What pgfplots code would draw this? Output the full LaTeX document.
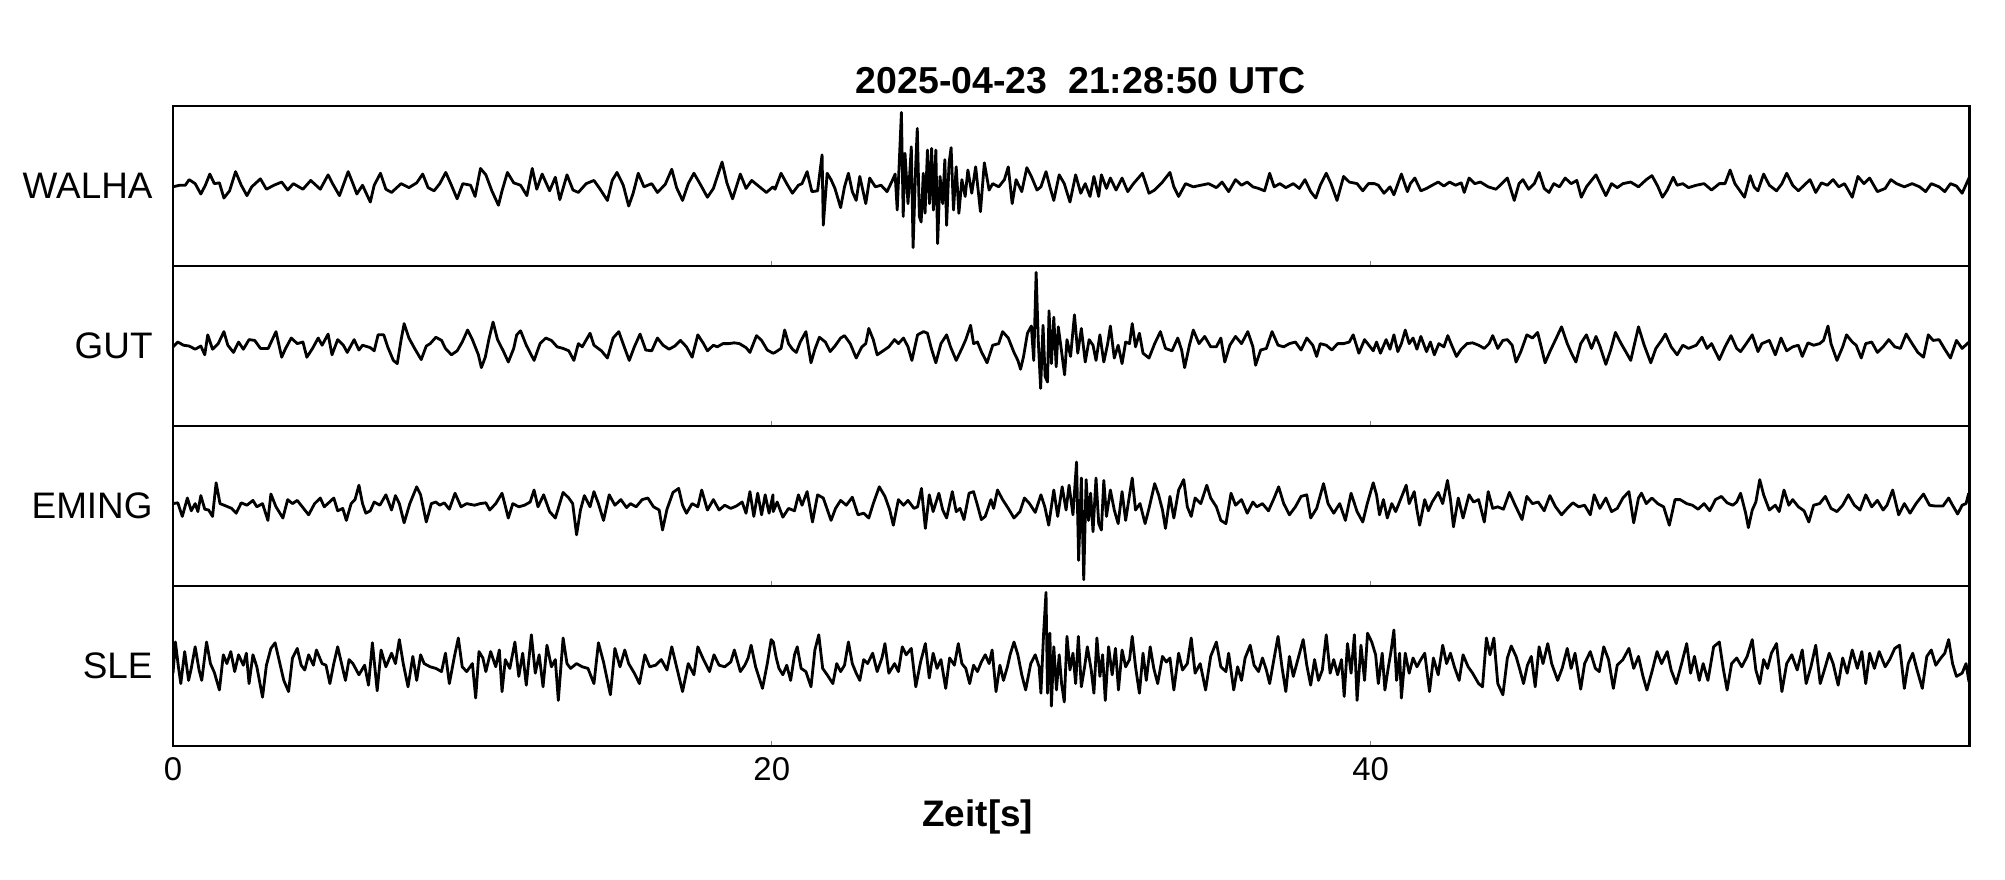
\documentclass[border=0pt]{standalone}
\usepackage{fontspec}
\setmainfont{Liberation Sans}
\usepackage{pgfplots}
\pgfplotsset{compat=1.18}

\pgfplotsset{
  seis/.style={
    scale only axis, width=448pt, height=39.9pt,
    anchor=south west,
    xmin=0, xmax=60, ymin=-1, ymax=1,
    ytick=\empty, xtick={0,20,40},
    xtick pos=bottom, tick align=inside, major tick length=1.2pt,
    axis line style={line width=0.6pt},
    clip mode=individual,
    /pgf/number format/assume math mode=true,
    tick label style={font=\fontsize{8.2}{10}\selectfont},
    xticklabel style={anchor=north, inner sep=0pt, yshift=-2.7pt},
  },
  trace/.style={black, line width=0.7pt, line join=round, no markers},
}
\tikzset{
  station/.style={anchor=east, inner sep=0pt, xshift=-4.9pt, font=\fontsize{9.2}{11}\selectfont},
}

\begin{document}
\begin{tikzpicture}
\path[use as bounding box] (-43.15pt,-33.42pt) rectangle (456.9pt,186.05pt);

% WALHA
\begin{axis}[seis, at={(0pt,119.7pt)}, xticklabels={}]
\addplot[trace] coordinates {
(0.00,-0.01) (0.22,0.01) (0.41,0.01) (0.54,0.08) (0.74,0.03) (0.93,-0.10) (1.08,0.01) (1.23,0.15) (1.38,0.03) (1.55,0.04)
(1.70,-0.15) (1.89,-0.06) (2.09,0.18) (2.28,0.01) (2.47,-0.12) (2.63,-0.01) (2.92,0.09) (3.12,-0.04) (3.37,0.01) (3.63,0.05)
(3.83,-0.05) (4.02,0.03) (4.34,-0.04) (4.60,0.07) (4.92,-0.04) (5.18,0.14) (5.33,0.03) (5.56,-0.12) (5.85,0.18) (6.01,0.03)
(6.14,-0.10) (6.33,0.01) (6.59,-0.20) (6.72,0.01) (6.93,0.16) (7.11,-0.04) (7.30,-0.08) (7.62,0.03) (7.88,-0.02) (8.14,0.04)
(8.34,0.15) (8.52,-0.02) (8.72,-0.06) (8.91,0.03) (9.11,0.17) (9.30,0.01) (9.49,-0.16) (9.68,0.03) (9.94,0.01) (10.09,-0.13)
(10.27,0.22) (10.45,0.14) (10.65,-0.06) (10.87,-0.24) (10.99,-0.06) (11.17,0.17) (11.38,0.04) (11.61,0.01) (11.82,-0.12) (12.00,0.22)
(12.15,-0.04) (12.33,0.15) (12.58,-0.06) (12.77,0.11) (12.92,-0.17) (13.16,0.14) (13.36,-0.05) (13.54,-0.08) (13.80,0.03) (14.06,0.07)
(14.25,-0.03) (14.51,-0.18) (14.67,0.07) (14.83,0.17) (15.04,0.01) (15.22,-0.25) (15.37,-0.09) (15.54,0.16) (15.73,-0.01) (15.99,0.03)
(16.18,-0.08) (16.44,0.02) (16.66,0.21) (16.82,-0.02) (17.02,-0.18) (17.21,0.03) (17.40,0.16) (17.60,0.03) (17.85,-0.14) (18.05,-0.03)
(18.34,0.30) (18.50,0.04) (18.69,-0.16) (18.95,0.15) (19.14,-0.03) (19.33,0.07) (19.59,-0.01) (19.82,-0.08) (20.04,-0.01)
(20.11,-0.04) (20.31,0.16) (20.50,0.03) (20.69,-0.09) (20.89,0.01) (21.01,0.03) (21.18,0.18) (21.34,-0.07) (21.53,-0.06) (21.68,0.39)
(21.72,-0.49) (21.85,0.16) (21.98,0.08) (22.11,-0.03) (22.30,-0.27) (22.43,-0.01) (22.56,0.16) (22.69,-0.07) (22.82,-0.18) (22.94,0.12)
(23.14,-0.22) (23.27,0.10) (23.46,-0.01) (23.65,0.01) (23.85,-0.07) (24.04,0.08) (24.12,0.15) (24.19,-0.30) (24.33,0.92) (24.39,-0.38)
(24.45,0.41) (24.55,-0.22) (24.66,0.49) (24.72,-0.77) (24.81,0.28) (24.86,0.72) (24.93,-0.38) (24.99,-0.45) (25.06,0.16) (25.12,-0.34)
(25.20,0.45) (25.27,-0.22) (25.34,0.47) (25.40,-0.30) (25.48,0.45) (25.54,-0.72) (25.62,0.12) (25.71,-0.22) (25.78,0.33) (25.84,-0.49)
(25.92,0.28) (25.99,0.48) (26.07,-0.30) (26.16,0.24) (26.25,-0.34) (26.35,0.08) (26.46,-0.13) (26.55,0.20) (26.68,-0.09) (26.81,0.24)
(26.97,-0.32) (27.10,0.29) (27.26,-0.05) (27.38,0.03) (27.58,-0.01) (27.77,0.08) (27.90,0.24) (28.03,-0.22) (28.16,0.08) (28.35,-0.07)
(28.52,0.23) (28.67,0.12) (28.86,-0.05) (28.99,-0.01) (29.16,0.18) (29.29,-0.01) (29.42,-0.18) (29.60,0.14) (29.77,0.03) (29.96,-0.20)
(30.15,0.14) (30.32,-0.09) (30.47,0.03) (30.63,-0.13) (30.76,0.12) (30.92,-0.13) (31.01,0.14) (31.18,-0.03) (31.31,0.10) (31.50,-0.05)
(31.70,0.10) (31.89,-0.07) (32.08,0.03) (32.38,0.16) (32.60,-0.09) (32.79,-0.05) (33.05,0.05) (33.30,0.17) (33.43,-0.01) (33.59,-0.13)
(33.82,0.03) (34.08,-0.01) (34.33,0.01) (34.59,0.03) (34.85,-0.02) (35.04,0.05) (35.26,-0.07) (35.49,0.08) (35.69,0.01) (35.88,0.05)
(36.07,-0.01) (36.26,-0.03) (36.46,-0.06) (36.63,0.16) (36.78,-0.01) (36.97,0.03) (37.17,-0.02) (37.42,0.03) (37.62,-0.03) (37.81,0.08)
(38.00,-0.07) (38.17,-0.15) (38.32,0.01) (38.52,0.16) (38.68,0.03) (38.88,-0.18) (39.10,0.12) (39.29,0.05) (39.55,0.03) (39.74,-0.06)
(39.93,0.03) (40.13,0.03) (40.26,0.01) (40.45,-0.09) (40.65,-0.01) (40.78,-0.11) (41.03,0.15) (41.23,-0.07) (41.33,0.03) (41.48,0.10)
(41.68,-0.06) (41.87,-0.03) (42.06,0.01) (42.26,0.05) (42.45,0.00) (42.64,0.05) (42.84,0.01) (43.03,0.04) (43.13,-0.08) (43.29,0.10)
(43.48,0.03) (43.67,0.05) (43.93,-0.01) (44.19,-0.04) (44.38,0.03) (44.57,0.10) (44.80,-0.18) (44.96,0.03) (45.09,0.08) (45.28,-0.04)
(45.47,0.03) (45.63,0.17) (45.80,-0.03) (45.96,-0.08) (46.12,0.03) (46.31,-0.01) (46.50,0.10) (46.70,0.03) (46.89,0.07) (47.04,-0.14)
(47.21,-0.01) (47.40,0.08) (47.53,0.14) (47.73,-0.02) (47.86,-0.12) (48.05,0.03) (48.24,-0.02) (48.43,0.03) (48.69,0.05) (48.95,-0.01)
(49.21,0.08) (49.40,0.13) (49.59,0.00) (49.75,-0.14) (49.91,-0.05) (50.11,0.11) (50.24,0.01) (50.43,0.03) (50.62,-0.02) (50.88,0.01)
(51.14,0.03) (51.39,-0.05) (51.65,0.03) (51.84,0.03) (52.01,0.20) (52.17,0.03) (52.32,-0.05) (52.49,-0.14) (52.68,0.13) (52.81,-0.01)
(52.94,-0.06) (53.13,0.15) (53.32,0.01) (53.56,-0.06) (53.74,0.03) (53.90,0.16) (54.10,0.01) (54.29,-0.06) (54.48,0.01) (54.68,0.08)
(54.87,-0.08) (55.06,0.04) (55.26,0.01) (55.45,0.08) (55.64,-0.01) (55.83,0.03) (56.09,-0.14) (56.28,0.12) (56.48,0.03) (56.67,0.10)
(56.93,-0.07) (57.19,-0.03) (57.38,0.08) (57.57,0.03) (57.83,-0.01) (58.09,0.03) (58.34,-0.01) (58.54,-0.07) (58.73,0.03) (58.99,-0.01)
(59.18,-0.07) (59.37,0.03) (59.57,0.00) (59.76,-0.09) (59.99,0.10)
};
\node[station] at (rel axis cs:0,0.5) {WALHA};
\node[anchor=base, inner sep=0pt, font=\fontsize{9.35}{11}\selectfont\bfseries] at (rel axis cs:0.5,1) [xshift=2.4pt, yshift=3.1pt] {2025-04-23~~21:28:50 UTC};
\end{axis}

% GUT
\begin{axis}[seis, at={(0pt,79.8pt)}, xticklabels={}]
\addplot[trace] coordinates {
(0.00,-0.01) (0.16,0.05) (0.35,0.01) (0.54,0.00) (0.74,-0.04) (0.93,0.00) (1.06,-0.11) (1.16,0.14) (1.32,-0.04) (1.51,0.03)
(1.70,0.18) (1.83,0.01) (2.02,-0.08) (2.19,0.05) (2.35,-0.04) (2.54,0.08) (2.73,0.07) (2.92,-0.03) (3.18,-0.03) (3.44,0.18)
(3.63,-0.14) (3.76,-0.03) (3.95,0.10) (4.15,0.03) (4.34,0.05) (4.47,-0.14) (4.66,-0.03) (4.85,0.10) (4.98,0.01) (5.18,0.15)
(5.31,-0.11) (5.50,0.08) (5.69,0.01) (5.82,-0.08) (6.05,0.08) (6.21,-0.05) (6.33,0.01) (6.59,-0.02) (6.72,-0.06) (6.85,0.14)
(7.04,0.14) (7.17,-0.01) (7.36,-0.18) (7.49,-0.22) (7.62,0.08) (7.72,0.28) (7.88,0.10) (8.07,-0.03) (8.29,-0.17) (8.46,0.00)
(8.59,0.03) (8.78,0.11) (8.97,0.07) (9.10,-0.03) (9.30,-0.11) (9.49,-0.06) (9.66,0.05) (9.84,0.20) (10.00,0.08) (10.20,-0.11)
(10.30,-0.27) (10.43,-0.14) (10.56,0.10) (10.69,0.30) (10.84,0.08) (11.03,-0.06) (11.20,-0.20) (11.38,-0.03) (11.48,0.14) (11.61,0.19)
(11.80,0.01) (12.06,-0.18) (12.26,0.03) (12.45,0.10) (12.64,0.07) (12.83,-0.01) (13.03,-0.03) (13.22,-0.06) (13.39,-0.18) (13.54,0.03)
(13.67,-0.01) (13.93,0.16) (14.06,0.01) (14.31,-0.06) (14.51,-0.15) (14.70,0.10) (14.89,0.18) (15.09,-0.03) (15.24,-0.18) (15.41,-0.01)
(15.60,0.15) (15.79,-0.05) (15.99,-0.06) (16.18,0.10) (16.37,0.01) (16.57,-0.04) (16.76,0.00) (16.95,0.07) (17.15,-0.01) (17.34,-0.14)
(17.53,0.14) (17.72,0.03) (17.85,-0.06) (18.05,0.01) (18.18,-0.01) (18.37,0.03) (18.56,0.03) (18.75,0.04) (18.92,0.03) (19.14,-0.02)
(19.27,-0.08) (19.49,0.13) (19.66,0.07) (19.85,-0.05) (20.04,-0.09)
(20.11,-0.08) (20.31,-0.03) (20.43,0.20) (20.56,0.03) (20.69,-0.04) (20.82,-0.08) (20.95,0.05) (21.14,0.18) (21.31,-0.21) (21.44,-0.04)
(21.59,0.11) (21.79,0.05) (21.95,-0.07) (22.11,0.00) (22.30,0.10) (22.43,0.13) (22.62,0.03) (22.82,-0.15) (23.01,-0.01) (23.14,0.03)
(23.24,0.22) (23.39,0.08) (23.52,-0.11) (23.72,-0.06) (23.91,-0.01) (24.10,0.08) (24.23,0.03) (24.40,0.10) (24.55,-0.01) (24.68,-0.18)
(24.87,0.14) (25.07,0.18) (25.20,0.16) (25.33,-0.03) (25.48,-0.21) (25.65,0.03) (25.84,0.14) (25.97,-0.01) (26.16,-0.18) (26.35,-0.03)
(26.48,0.08) (26.64,0.26) (26.74,0.03) (26.87,0.05) (27.00,-0.07) (27.19,-0.21) (27.38,0.01) (27.58,0.03) (27.71,0.18) (27.90,0.10)
(28.09,-0.08) (28.22,-0.18) (28.31,-0.29) (28.41,-0.13) (28.54,0.16) (28.67,0.25) (28.75,-0.18) (28.83,0.92) (28.90,0.08) (28.98,-0.53)
(29.06,0.26) (29.13,-0.38) (29.21,-0.45) (29.26,0.44) (29.34,-0.22) (29.42,0.36) (29.50,-0.26) (29.57,0.24) (29.68,-0.07) (29.78,-0.36)
(29.86,0.08) (29.98,-0.13) (30.11,0.39) (30.22,-0.09) (30.34,0.22) (30.47,-0.20) (30.60,0.08) (30.73,0.01) (30.83,-0.18) (30.96,0.14)
(31.09,-0.20) (31.22,0.03) (31.31,0.25) (31.44,-0.15) (31.57,0.01) (31.70,-0.22) (31.82,0.05) (31.95,0.03) (32.04,0.28) (32.15,-0.01)
(32.28,0.16) (32.40,-0.09) (32.60,-0.15) (32.79,0.03) (32.98,0.18) (33.15,-0.03) (33.37,-0.06) (33.56,0.10) (33.69,-0.05) (33.79,-0.27)
(33.95,0.01) (34.08,0.20) (34.27,0.03) (34.46,0.12) (34.66,-0.01) (34.85,-0.01) (35.00,0.10) (35.13,-0.20) (35.30,0.01) (35.49,0.12)
(35.69,0.03) (35.90,0.18) (36.07,-0.01) (36.16,-0.24) (36.33,-0.05) (36.52,-0.03) (36.71,0.18) (36.91,0.01) (37.10,-0.01) (37.29,0.03)
(37.49,0.05) (37.68,-0.05) (37.87,0.10) (38.07,0.01) (38.20,-0.13) (38.32,0.03) (38.52,0.01) (38.71,-0.05) (38.90,0.03) (39.10,0.03)
(39.29,0.05) (39.42,0.14) (39.61,-0.09) (39.80,0.08)
(40.09,-0.06) (40.20,0.05) (40.33,-0.09) (40.52,0.08) (40.65,-0.04) (40.78,0.14) (40.91,-0.07) (41.03,0.03) (41.16,0.20) (41.29,0.03)
(41.42,0.10) (41.55,-0.04) (41.68,0.12) (41.87,-0.07) (42.00,0.05) (42.13,-0.11) (42.28,0.03) (42.45,-0.01) (42.58,0.13) (42.71,0.01)
(42.87,-0.13) (43.03,-0.04) (43.22,0.03) (43.41,0.04) (43.61,0.01) (43.80,-0.03) (43.96,0.03) (44.08,0.13) (44.25,-0.03) (44.42,0.07)
(44.57,0.08) (44.73,0.01) (44.86,-0.20) (45.02,-0.07) (45.22,0.14) (45.41,0.10) (45.58,0.17) (45.70,-0.01) (45.83,-0.21) (45.99,-0.07)
(46.18,0.08) (46.38,0.24) (46.57,0.03) (46.70,-0.08) (46.86,-0.20) (47.02,0.03) (47.21,0.14) (47.38,-0.03) (47.53,0.12) (47.66,0.00)
(47.86,-0.23) (48.02,-0.05) (48.18,0.17) (48.37,0.03) (48.54,-0.08) (48.69,-0.18) (48.85,0.08) (48.95,0.24) (49.14,0.01) (49.36,-0.21)
(49.53,-0.03) (49.72,0.07) (49.85,0.15) (50.04,-0.01) (50.24,-0.11) (50.43,0.01) (50.62,-0.03) (50.88,0.01) (51.07,0.11) (51.24,-0.03)
(51.39,0.03) (51.65,-0.17) (51.84,-0.01) (52.04,0.13) (52.23,-0.03) (52.36,-0.07) (52.55,0.03) (52.75,0.14) (52.94,-0.07) (53.07,0.03)
(53.32,0.07) (53.52,-0.11) (53.71,0.10) (53.90,-0.06) (54.10,-0.01) (54.29,0.01) (54.42,-0.13) (54.61,0.04) (54.80,0.01) (55.00,0.03)
(55.13,0.07) (55.28,0.25) (55.38,0.03) (55.58,-0.18) (55.77,-0.01) (55.90,0.14) (56.09,0.05) (56.22,0.01) (56.39,-0.15) (56.54,0.03)
(56.74,0.05) (56.93,-0.08) (57.12,-0.01) (57.31,0.08) (57.51,-0.01) (57.70,-0.03) (57.89,0.15) (58.09,0.03) (58.28,-0.08) (58.47,-0.14)
(58.63,0.14) (58.79,0.07) (58.99,0.08) (59.18,-0.04) (59.37,-0.15) (59.57,0.07) (59.76,-0.03) (59.99,0.05)
};
\node[station] at (rel axis cs:0,0.5) {GUT};
\end{axis}

% EMING
\begin{axis}[seis, at={(0pt,39.9pt)}, xticklabels={}]
\addplot[trace] coordinates {
(0.00,0.03) (0.16,0.04) (0.31,-0.13) (0.48,0.10) (0.61,-0.06) (0.74,0.03) (0.83,-0.07) (0.93,0.13) (1.06,-0.04) (1.19,-0.05)
(1.32,-0.13) (1.44,0.29) (1.57,0.03) (1.77,0.00) (1.96,-0.03) (2.11,-0.09) (2.28,0.04) (2.47,0.01) (2.67,0.07) (2.80,-0.01)
(2.99,0.03) (3.17,-0.18) (3.27,0.15) (3.44,-0.01) (3.67,-0.15) (3.83,0.08) (3.99,0.03) (4.15,0.07) (4.34,-0.02) (4.53,-0.11)
(4.73,0.03) (4.92,0.10) (5.05,-0.01) (5.20,0.04) (5.37,0.10) (5.50,-0.06) (5.67,-0.03) (5.79,-0.18) (5.95,0.03) (6.08,0.08)
(6.21,0.26) (6.33,0.03) (6.44,-0.09) (6.59,-0.06) (6.72,0.05) (6.91,0.01) (7.11,0.14) (7.30,-0.05) (7.43,0.13) (7.56,0.03)
(7.72,-0.21) (7.91,0.03) (8.14,0.24) (8.27,0.14) (8.46,-0.20) (8.63,0.03) (8.78,0.05) (8.91,0.01) (9.06,0.04) (9.23,-0.04)
(9.42,0.16) (9.62,-0.01) (9.81,0.03) (10.07,0.01) (10.26,0.03) (10.45,0.04) (10.58,-0.05) (10.78,0.03) (10.99,0.16) (11.20,-0.15)
(11.35,0.03) (11.55,-0.01) (11.74,0.01) (11.93,0.05) (12.06,0.20) (12.19,-0.01) (12.38,0.14) (12.58,-0.07) (12.77,-0.15) (13.03,0.17)
(13.22,0.10) (13.35,0.03) (13.48,-0.36) (13.61,-0.05) (13.74,0.13) (13.93,-0.01) (14.06,0.18) (14.21,0.03) (14.38,-0.18) (14.57,0.14)
(14.76,0.01) (14.96,0.08) (15.15,-0.02) (15.28,0.03) (15.47,-0.01) (15.67,0.08) (15.86,0.10) (16.05,-0.01) (16.24,-0.05) (16.35,-0.30)
(16.50,-0.04) (16.70,0.17) (16.89,0.22) (17.02,0.01) (17.15,-0.09) (17.34,0.03) (17.53,-0.01) (17.66,0.20) (17.85,-0.05) (18.05,0.08)
(18.24,-0.05) (18.43,0.01) (18.63,-0.03) (18.82,0.00) (19.01,0.05) (19.14,-0.09) (19.27,0.18) (19.40,-0.13) (19.53,0.16) (19.66,-0.11)
(19.78,0.14) (19.91,-0.09) (20.04,0.14)
(20.05,-0.07) (20.18,0.05) (20.37,-0.14) (20.56,-0.03) (20.76,-0.06) (20.89,0.14) (21.01,0.01) (21.18,0.18) (21.36,-0.20) (21.53,0.14)
(21.72,0.10) (21.98,-0.18) (22.13,-0.03) (22.30,0.07) (22.49,0.01) (22.69,0.11) (22.88,-0.11) (23.07,-0.09) (23.24,-0.15) (23.39,0.03)
(23.59,0.24) (23.78,0.12) (23.94,-0.05) (24.06,-0.24) (24.23,0.08) (24.40,0.01) (24.55,0.07) (24.75,-0.03) (24.87,-0.01) (25.00,0.22)
(25.13,-0.28) (25.26,0.14) (25.39,-0.07) (25.58,0.16) (25.71,-0.05) (25.84,-0.15) (26.03,0.18) (26.16,-0.07) (26.29,-0.03) (26.42,-0.17)
(26.59,0.16) (26.74,0.18) (26.87,0.01) (27.00,-0.17) (27.13,-0.13) (27.32,0.08) (27.41,-0.03) (27.54,0.20) (27.71,0.08) (27.90,-0.03)
(28.09,-0.15) (28.29,-0.07) (28.44,0.10) (28.61,0.03) (28.80,-0.08) (28.99,0.14) (29.12,-0.01) (29.25,-0.24) (29.42,0.20) (29.55,-0.13)
(29.70,0.24) (29.83,-0.05) (29.93,0.26) (30.06,-0.11) (30.18,0.55) (30.25,-0.68) (30.34,0.35) (30.42,-0.92) (30.50,0.33) (30.58,-0.18)
(30.65,0.16) (30.73,-0.32) (30.83,0.35) (30.92,-0.22) (31.01,-0.30) (31.09,0.32) (31.18,-0.13) (31.31,0.20) (31.44,-0.05) (31.57,-0.22)
(31.70,0.18) (31.82,-0.18) (31.95,0.14) (32.04,0.35) (32.15,-0.05) (32.30,0.03) (32.47,-0.22) (32.60,-0.03) (32.79,0.28) (32.92,0.14)
(33.05,-0.05) (33.15,-0.28) (33.30,0.12) (33.43,-0.15) (33.59,0.20) (33.76,0.33) (33.88,-0.01) (34.01,-0.13) (34.14,0.10) (34.33,0.03)
(34.53,0.26) (34.66,0.10) (34.85,-0.01) (35.00,-0.18) (35.17,-0.22) (35.34,0.16) (35.49,0.01) (35.69,0.08) (35.88,-0.09) (36.07,0.05)
(36.20,-0.01) (36.39,0.03) (36.59,-0.06) (36.78,0.10) (36.93,0.24) (37.10,0.03) (37.29,-0.11) (37.49,-0.01) (37.68,0.12) (37.87,0.14)
(38.00,-0.15) (38.20,-0.03) (38.43,0.28) (38.58,0.03) (38.77,-0.09) (38.97,0.03) (39.16,-0.18) (39.35,0.16) (39.55,-0.07) (39.74,-0.20)
(39.89,0.03)
(40.09,0.29) (40.20,0.14) (40.30,-0.11) (40.43,0.08) (40.56,-0.15) (40.71,0.03) (40.84,-0.07) (41.00,0.08) (41.19,0.26) (41.29,0.03)
(41.46,0.18) (41.55,-0.05) (41.64,-0.24) (41.81,0.08) (41.93,-0.06) (42.06,0.05) (42.26,0.17) (42.41,0.03) (42.57,0.32) (42.67,0.08)
(42.77,-0.26) (42.93,0.10) (43.09,-0.15) (43.29,0.14) (43.44,0.05) (43.61,0.08) (43.80,-0.20) (43.93,0.18) (44.08,-0.03) (44.25,-0.01)
(44.44,-0.04) (44.64,0.17) (44.83,0.01) (45.06,-0.17) (45.22,0.12) (45.41,0.03) (45.60,0.05) (45.80,-0.06) (45.99,0.13) (46.18,-0.01)
(46.38,-0.11) (46.57,-0.03) (46.76,0.04) (46.95,-0.01) (47.15,0.01) (47.34,-0.11) (47.47,0.14) (47.66,-0.03) (47.86,0.10) (48.05,-0.07)
(48.24,-0.03) (48.43,0.10) (48.63,0.18) (48.79,-0.21) (48.95,0.10) (49.05,0.16) (49.21,0.03) (49.40,0.10) (49.59,0.03) (49.79,-0.01)
(49.98,-0.24) (50.17,0.08) (50.34,0.08) (50.56,0.03) (50.75,0.01) (50.94,-0.04) (51.14,0.03) (51.33,-0.06) (51.52,0.08) (51.72,0.12)
(51.91,0.04) (52.10,0.01) (52.23,0.05) (52.36,0.16) (52.53,-0.09) (52.62,-0.27) (52.75,-0.05) (52.87,0.05) (53.00,0.33) (53.13,0.14)
(53.32,-0.05) (53.52,0.01) (53.65,-0.07) (53.81,0.20) (53.97,0.01) (54.10,0.08) (54.29,-0.01) (54.48,-0.06) (54.64,-0.20) (54.80,0.01)
(55.00,0.03) (55.19,0.12) (55.38,-0.03) (55.58,-0.07) (55.77,0.01) (55.96,0.14) (56.16,0.01) (56.35,-0.05) (56.54,0.14) (56.74,-0.01)
(56.93,0.07) (57.12,-0.05) (57.25,0.01) (57.44,0.20) (57.64,-0.11) (57.83,0.03) (58.02,-0.09) (58.22,0.03) (58.47,0.15) (58.67,0.01)
(58.86,0.00) (59.12,0.00) (59.31,0.10) (59.44,0.01) (59.61,-0.10) (59.76,0.01) (59.89,0.03) (59.98,0.16)
};
\node[station] at (rel axis cs:0,0.5) {EMING};
\end{axis}

% SLE
\begin{axis}[seis, at={(0pt,0pt)}]
\addplot[trace] coordinates {
(0.00,-0.09) (0.08,0.30) (0.18,-0.01) (0.26,-0.22) (0.39,0.18) (0.52,-0.18) (0.61,-0.03) (0.74,0.24) (0.87,-0.05) (0.96,-0.18)
(1.12,0.30) (1.25,0.03) (1.38,-0.08) (1.55,-0.30) (1.68,0.14) (1.80,0.03) (1.93,0.18) (2.06,-0.07) (2.19,0.14) (2.35,0.01)
(2.45,0.16) (2.54,-0.22) (2.67,0.14) (2.80,-0.01) (2.99,-0.39) (3.12,0.01) (3.27,0.22) (3.41,0.29) (3.57,0.03) (3.70,-0.18)
(3.86,-0.32) (3.99,0.10) (4.15,0.22) (4.28,0.01) (4.40,-0.05) (4.53,0.14) (4.69,0.01) (4.79,0.20) (4.98,0.03) (5.11,0.01)
(5.24,-0.22) (5.37,0.03) (5.50,0.24) (5.63,0.03) (5.76,-0.18) (5.88,0.08) (6.01,0.03) (6.21,-0.11) (6.40,0.01) (6.53,-0.24)
(6.66,0.29) (6.82,-0.31) (6.95,0.20) (7.11,-0.01) (7.30,0.16) (7.43,0.03) (7.56,0.33) (7.69,0.03) (7.85,-0.26) (8.01,0.12)
(8.14,-0.18) (8.27,0.14) (8.39,0.03) (8.59,-0.01) (8.78,-0.03) (8.97,-0.07) (9.10,0.16) (9.23,-0.22) (9.40,0.12) (9.53,0.35)
(9.66,-0.01) (9.81,-0.07) (10.00,0.03) (10.11,-0.40) (10.22,0.18) (10.35,0.10) (10.45,-0.07) (10.61,0.18) (10.78,-0.01) (10.90,0.20)
(10.99,-0.32) (11.10,0.08) (11.25,-0.03) (11.42,0.30) (11.55,-0.13) (11.68,0.16) (11.80,-0.24) (11.97,0.39) (12.10,-0.09) (12.23,0.14)
(12.36,-0.26) (12.49,0.26) (12.64,-0.01) (12.77,0.08) (12.87,-0.43) (13.03,0.35) (13.16,0.03) (13.28,-0.03) (13.48,0.03) (13.67,-0.01)
(13.86,-0.03) (14.06,-0.22) (14.21,0.29) (14.38,0.05) (14.61,-0.36) (14.76,0.22) (14.93,-0.01) (15.09,0.20) (15.22,0.03) (15.41,-0.09)
(15.58,-0.22) (15.76,0.14) (15.92,-0.01) (16.12,0.01) (16.31,0.08) (16.50,-0.05) (16.66,0.24) (16.82,-0.01) (17.02,-0.32) (17.21,0.03)
(17.40,-0.11) (17.53,0.24) (17.72,0.08) (17.92,-0.07) (18.07,0.14) (18.24,0.01) (18.43,-0.01) (18.63,0.05) (18.75,0.20) (18.95,-0.07)
(19.10,0.01) (19.21,0.10) (19.31,0.26) (19.46,-0.01) (19.69,-0.28) (19.85,0.03) (19.98,0.33)
(20.05,0.30) (20.15,0.10) (20.24,-0.03) (20.37,-0.11) (20.50,0.01) (20.63,-0.18) (20.76,0.14) (20.85,0.24) (20.98,-0.03) (21.14,-0.07)
(21.31,-0.26) (21.44,0.20) (21.57,0.39) (21.70,-0.03) (21.85,-0.11) (22.04,-0.22) (22.17,0.03) (22.30,-0.07) (22.43,0.01) (22.56,0.30)
(22.69,0.03) (22.82,-0.09) (22.94,-0.18) (23.07,0.08) (23.20,0.03) (23.37,0.16) (23.52,-0.07) (23.68,0.10) (23.78,0.28) (23.91,-0.09)
(24.10,0.03) (24.23,-0.07) (24.36,0.24) (24.49,0.14) (24.66,0.22) (24.81,-0.26) (24.97,0.05) (25.13,0.28) (25.26,-0.15) (25.39,0.16)
(25.52,-0.03) (25.65,0.08) (25.81,-0.28) (25.94,0.10) (26.10,0.01) (26.23,0.28) (26.35,0.03) (26.48,-0.03) (26.61,-0.22) (26.74,0.01)
(26.87,-0.07) (27.00,0.05) (27.13,0.14) (27.26,0.03) (27.36,0.20) (27.49,-0.32) (27.62,0.01) (27.74,-0.18) (27.87,-0.01) (27.96,0.14)
(28.09,0.30) (28.22,0.14) (28.35,-0.11) (28.48,-0.30) (28.65,0.03) (28.80,0.14) (28.93,-0.01) (28.99,-0.34) (29.08,0.41) (29.16,0.92)
(29.21,-0.34) (29.29,0.41) (29.34,-0.50) (29.42,0.24) (29.51,-0.30) (29.60,0.14) (29.68,-0.22) (29.77,-0.45) (29.86,0.37) (29.96,-0.05)
(30.06,0.16) (30.15,-0.22) (30.24,0.37) (30.34,-0.26) (30.45,-0.01) (30.54,0.24) (30.67,-0.05) (30.76,-0.34) (30.86,0.35) (30.96,-0.13)
(31.05,0.14) (31.14,-0.43) (31.25,0.24) (31.37,-0.11) (31.48,0.22) (31.58,-0.30) (31.70,0.20) (31.82,-0.01) (31.95,0.08) (32.04,0.37)
(32.15,-0.01) (32.28,-0.34) (32.40,0.16) (32.51,-0.18) (32.64,0.24) (32.76,-0.03) (32.89,-0.22) (33.05,0.12) (33.18,0.05) (33.30,0.10)
(33.43,-0.30) (33.59,0.16) (33.72,-0.05) (33.88,0.03) (34.01,0.35) (34.14,-0.09) (34.31,0.03) (34.49,-0.30) (34.66,0.12) (34.85,0.30)
(35.00,-0.01) (35.17,-0.07) (35.26,0.16) (35.43,-0.30) (35.56,-0.01) (35.69,-0.18) (35.81,0.10) (35.98,0.26) (36.11,0.01) (36.26,-0.07)
(36.39,0.10) (36.52,-0.05) (36.63,-0.22) (36.78,0.10) (36.91,0.37) (37.04,-0.01) (37.17,-0.32) (37.29,0.12) (37.42,-0.13) (37.55,0.05)
(37.75,0.33) (37.87,0.01) (38.00,-0.24) (38.13,0.08) (38.26,-0.18) (38.39,-0.05) (38.52,0.39) (38.65,-0.09) (38.77,0.08) (38.90,-0.11)
(39.03,0.08) (39.12,-0.38) (39.23,0.28) (39.35,-0.09) (39.46,0.39) (39.55,-0.43) (39.68,0.26) (39.80,-0.18) (39.90,0.41)
(40.04,0.30) (40.17,0.14) (40.26,-0.22) (40.39,0.16) (40.48,-0.30) (40.58,-0.05) (40.69,0.20) (40.78,0.45) (40.87,-0.18) (40.97,0.16)
(41.03,-0.40) (41.16,0.16) (41.29,-0.09) (41.42,0.10) (41.55,-0.01) (41.68,0.08) (41.81,0.16) (41.97,-0.32) (42.10,0.10) (42.26,-0.11)
(42.41,0.26) (42.54,0.03) (42.67,0.16) (42.80,-0.01) (42.96,-0.18) (43.09,0.14) (43.26,-0.01) (43.41,-0.09) (43.61,-0.22) (43.74,-0.26)
(43.87,0.35) (43.99,0.14) (44.12,0.35) (44.25,-0.22) (44.42,-0.36) (44.57,0.10) (44.70,0.25) (44.86,0.12) (44.99,-0.05) (45.11,-0.22)
(45.24,0.01) (45.37,0.12) (45.50,-0.26) (45.63,0.24) (45.76,0.03) (45.92,0.28) (46.05,0.03) (46.25,-0.18) (46.40,-0.03) (46.57,0.22)
(46.70,-0.03) (46.83,0.16) (47.02,-0.29) (47.15,0.03) (47.34,0.18) (47.51,-0.03) (47.64,-0.07) (47.79,0.24) (47.95,0.08) (48.11,-0.28)
(48.24,0.01) (48.43,0.08) (48.63,0.22) (48.79,-0.03) (48.95,0.12) (49.10,-0.13) (49.23,-0.30) (49.40,-0.07) (49.57,0.18) (49.72,0.03)
(49.91,0.18) (50.04,-0.05) (50.21,-0.22) (50.39,0.03) (50.56,0.28) (50.69,-0.09) (50.82,0.12) (50.98,-0.18) (51.11,0.03) (51.27,-0.18)
(51.46,0.24) (51.65,0.30) (51.78,-0.03) (51.91,-0.30) (52.06,0.03) (52.23,0.10) (52.40,-0.01) (52.58,0.12) (52.75,0.33) (52.87,-0.05)
(53.00,-0.22) (53.13,0.08) (53.26,-0.03) (53.39,0.16) (53.56,0.28) (53.74,-0.32) (53.90,0.03) (54.07,0.14) (54.25,-0.05) (54.42,0.20)
(54.55,-0.22) (54.71,-0.01) (54.87,0.26) (55.02,-0.22) (55.19,-0.01) (55.32,0.16) (55.45,0.03) (55.62,-0.24) (55.77,0.10) (55.92,-0.09)
(56.09,0.20) (56.26,-0.03) (56.41,0.18) (56.54,-0.22) (56.67,0.16) (56.83,-0.03) (56.99,0.18) (57.19,-0.01) (57.34,0.08) (57.51,0.22)
(57.67,0.26) (57.83,-0.28) (57.96,0.03) (58.11,0.16) (58.24,-0.03) (58.43,-0.28) (58.58,0.12) (58.73,0.20) (58.88,0.01) (59.05,0.10)
(59.18,0.16) (59.31,0.33) (59.44,0.03) (59.57,-0.13) (59.76,-0.09) (59.89,0.03) (59.99,-0.20)
};
\node[station] at (rel axis cs:0,0.5) {SLE};
\node[anchor=base, inner sep=0pt, font=\fontsize{9.2}{11}\selectfont\bfseries] at (rel axis cs:0.448,0) [yshift=-20.2pt] {Zeit[s]};
\end{axis}
\end{tikzpicture}
\end{document}
